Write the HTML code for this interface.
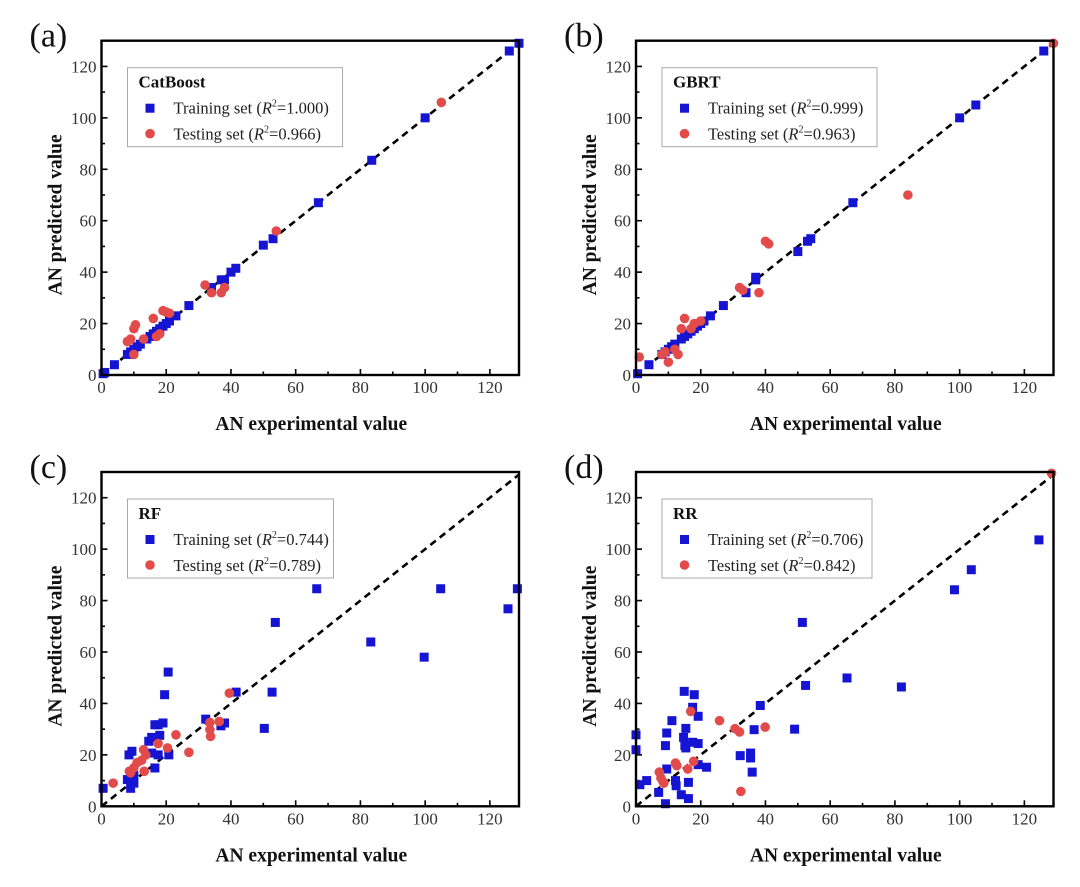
<!DOCTYPE html>
<html><head><meta charset="utf-8"><style>
body{margin:0;background:#fff;}
svg{display:block;font-family:"Liberation Serif",serif;}
</style></head><body>
<svg id="fig" width="1080" height="887" viewBox="0 0 1080 887"></svg>
<script>
// ---- data ----
const xTicks = [0,20,40,60,80,100,120];
const yTicks = [0,20,40,60,80,100,120];
const modelNames = ["CatBoost","GBRT","RF","RR"];
const panelLetters = ["(a)","(b)","(c)","(d)"];
const trainR2 = ["1.000","0.999","0.744","0.706"];
const testR2 = ["0.966","0.963","0.789","0.842"];

const aTrainX = [0.5,1,4,8,9,10,11,12,14,15,16,17,18,19,20,21,23,27,34,37,38,40,41.5,50,53,67,83.5,100,126,129];
const aTrainY = [0.5,1,4,8,9,10,11,12,14,15,16,17,18,19,20,21,23,27,34,37,37,40,41.5,50.5,53,67,83.5,100,126,129];
const aTestX = [8,9,10,10,10.5,13,16,17,18,19,20,21,32,34,37,38,54,105];
const aTestY = [13,14,8,18,19.5,14,22,15,16,25,24.5,24,35,32,32,34,56,106];

const bTrainX = [0.5,4,8,9,10,11,12,14,15,16,17,18,19,20,21,23,27,34,37,37,50,53,54,67,100,105,126];
const bTrainY = [0.5,4,8,9,10,11,12,14,15,16,17,18,19,20,21,23,27,32,38,37,48,52,53,67,100,105,126];
const bTestX = [1,8,9,10,12,13,14,15,17,18,20,32,33,38,40,41,84,129];
const bTestY = [7,8,9,5,10,8,18,22,18,20,21,34,33,32,52,51,70,129];

const cTrainX = [0.5,8.5,9.4,8,9,10,10,14.6,15.5,16.5,17.5,18,19,19.5,20.6,20.8,15.5,16.5,17.5,32.2,36.9,38,41.6,50.3,52.7,53.7,66.5,83.2,99.7,104.8,125.6,128.5];
const cTrainY = [7,20,21.4,10.4,7,9,12,25.3,26.8,31.7,31.7,27.6,32.4,43.4,52.2,20,20.7,14.9,20,33.9,31.3,32.4,44.4,30.3,44.4,71.5,84.6,63.9,58,84.6,76.8,84.6];
const cTestX = [3.6,8.6,9,10,11,12.4,13,13.2,13.7,17.5,20.4,23,27,33.5,33.5,33.7,36.4,39.5];
const cTestY = [9,13.6,13,15,17,17.9,22,13.6,20,24.4,22.7,27.8,21,32.6,29.8,27.2,33,44];

const dTrainX = [0,0,1.2,3.3,7,9.1,9.1,9.5,9.5,11.1,12.2,12.4,14,14.7,14.9,15.1,15.4,15.4,16.2,16.2,17.5,17.5,18,19.2,19.2,19.2,21.8,32.2,35.4,35.4,35.9,36.5,38.4,49,51.4,52.4,65.2,82,98.4,103.6,124.5];
const dTrainY = [27.8,22,8.4,10,5.4,1,23.6,28.5,14.5,33.3,10,8,4.5,26.8,44.7,23.6,30.3,22.7,9.3,3,24.9,38.5,43.4,24.4,35,16.2,15.2,19.7,20.7,18.8,13.3,29.8,39.2,30,71.5,47,49.9,46.4,84.2,92,103.6];
const dTestX = [7.2,7.7,8.3,8.6,12.2,12.6,16,16.9,17.8,25.8,30.6,32,32.4,39.9,128.4];
const dTestY = [13.3,11,9.7,9,16.8,15.8,14.5,36.9,17.5,33.3,30.2,28.9,5.8,30.8,129.5];

const trainXs=[aTrainX,bTrainX,cTrainX,dTrainX], trainYs=[aTrainY,bTrainY,cTrainY,dTrainY];
const testXs=[aTestX,bTestX,cTestX,dTestX], testYs=[aTestY,bTestY,cTestY,dTestY];

// ---- layout ----
const NS="http://www.w3.org/2000/svg";
const svg=document.getElementById('fig');
const XMAX=129, YMAX=130, W=417.5, H=334.3;
const origins=[[101.5,40.7],[636,40.7],[101.5,472],[636,472]];
const legendW=[215,215,206,210];
function mk(tag,attrs,parent){const e=document.createElementNS(NS,tag);for(const k in attrs)e.setAttribute(k,attrs[k]);(parent||svg).appendChild(e);return e;}

for(let p=0;p<4;p++){
  const [L,T]=origins[p];
  const sx=v=>L+v/XMAX*W, sy=v=>T+H-v/YMAX*H;
  const g=mk('g',{});
  
  
  const letter=mk('text',{x:L-72,y:T+6,'font-size':34,fill:'#111'},g);
  letter.textContent=panelLetters[p];
  
  
  // diagonal
  const diag=mk('line',{x1:sx(0),y1:sy(0),x2:sx(XMAX),y2:sy(XMAX),stroke:'#000','stroke-width':2.6,'stroke-dasharray':'7,5'},g);
  
  
  // ticks
  for(let v=0;v<=XMAX;v+=10){
    const major=v%20===0;
    mk('line',{x1:sx(v),x2:sx(v),y1:T+H,y2:T+H-(major?6:3.5),stroke:'#000','stroke-width':1.6},g);
  }
  for(let v=0;v<=YMAX;v+=10){
    const major=v%20===0;
    mk('line',{x1:L,x2:L+(major?6:3.5),y1:sy(v),y2:sy(v),stroke:'#000','stroke-width':1.6},g);
  }
  xTicks.forEach(v=>{const t=mk('text',{x:sx(v),y:T+H+18,'font-size':17,'text-anchor':'middle',fill:'#333'},g);t.textContent=v;
    
    });
  yTicks.forEach(v=>{const t=mk('text',{x:L-5,y:sy(v)+6,'font-size':17,'text-anchor':'end',fill:'#333'},g);t.textContent=v;
    
    });
  const xt=mk('text',{x:L+W/2+1,y:T+H+55,'font-size':19.5,'font-weight':'bold','text-anchor':'middle',fill:'#111'},g);
  xt.textContent='AN experimental value';
  
  
  const yt=mk('text',{x:0,y:0,'font-size':19.5,'font-weight':'bold','text-anchor':'middle',fill:'#111',transform:`translate(${L-40},${T+H/2+7}) rotate(-90)`},g);
  yt.textContent='AN predicted value';
  
  
  // points
  trainXs[p].forEach((x,i)=>{const r=mk('rect',{x:sx(x)-4.5,y:sy(trainYs[p][i])-4.5,width:9,height:9,fill:'#1414d2'},g);
    
    });
  testXs[p].forEach((x,i)=>{const c=mk('circle',{cx:sx(x),cy:sy(testYs[p][i]),r:4.8,fill:'#e34b4b'},g);
    
    });
  // frame
  const fr=mk('rect',{x:L,y:T,width:W,height:H,fill:'none',stroke:'#000','stroke-width':2.4},g);
  
  
  // legend
  const lg=mk('g',{},g);
  
  
  mk('rect',{x:L+26,y:T+27,width:legendW[p],height:79,fill:'#fff',stroke:'#aaa','stroke-width':1},lg);
  const lt=mk('text',{x:L+37,y:T+47,'font-size':17,'font-weight':'bold',fill:'#111'},lg);
  lt.textContent=modelNames[p];
  
  
  mk('rect',{x:L+44,y:T+63,width:9,height:9,fill:'#1414d2'},lg);
  mk('circle',{cx:L+48.5,cy:T+93,r:4.8,fill:'#e34b4b'},lg);
  const e1=mk('text',{x:L+72,y:T+73,'font-size':16.5,fill:'#222'},lg);
  e1.innerHTML='Training set (<tspan font-style="italic">R</tspan><tspan font-size="10" dy="-7">2</tspan><tspan dy="7">='+trainR2[p]+')</tspan>';
  
  
  const e2=mk('text',{x:L+72,y:T+99,'font-size':16.5,fill:'#222'},lg);
  e2.innerHTML='Testing set (<tspan font-style="italic">R</tspan><tspan font-size="10" dy="-7">2</tspan><tspan dy="7">='+testR2[p]+')</tspan>';
  
  
}
</script>
</body></html>
